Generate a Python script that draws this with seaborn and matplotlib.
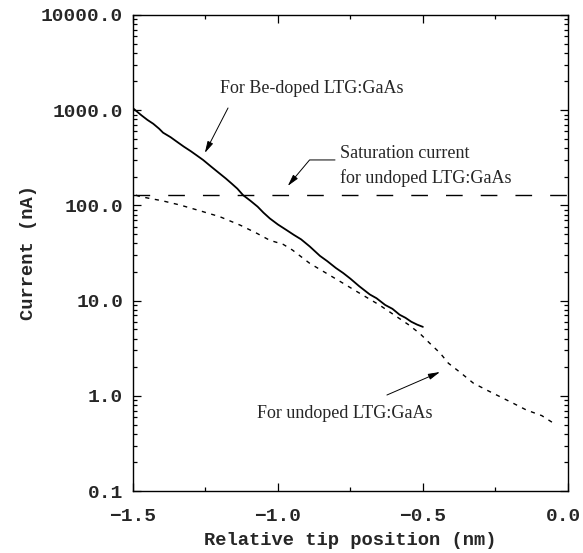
import numpy as np
import pandas as pd
import matplotlib
matplotlib.use("Agg")
import matplotlib.pyplot as plt
import matplotlib.transforms as mtransforms
import seaborn as sns
from matplotlib.ticker import FixedLocator, FormatStrFormatter, LogLocator, NullFormatter

# ---- data ----
be_x = [-1.500, -1.485, -1.470, -1.450, -1.430, -1.410, -1.396, -1.370, -1.350, -1.325,
        -1.300, -1.280, -1.258, -1.230, -1.200, -1.180, -1.160, -1.140, -1.120, -1.095,
        -1.070, -1.050, -1.028, -1.000, -0.970, -0.945, -0.920, -0.890, -0.855, -0.830,
        -0.800, -0.775, -0.750, -0.720, -0.683, -0.660, -0.630, -0.605, -0.580, -0.560,
        -0.540, -0.520, -0.500]
be_y = [1050, 960, 880, 790, 720, 640, 580, 520, 470, 415,
        370, 335, 300, 255, 215, 192, 170, 150, 128, 112,
        97, 84, 73, 63, 55, 49, 44, 37, 29.5, 26,
        22, 19.5, 17, 14.2, 11.6, 10.6, 9.0, 8.2, 7.1, 6.6,
        6.0, 5.6, 5.3]

un_x = [-1.490, -1.476, -1.440, -1.400, -1.338, -1.270, -1.200, -1.130, -1.073, -1.028,
        -0.982, -0.950, -0.890, -0.800, -0.717, -0.650, -0.600, -0.550, -0.510, -0.476,
        -0.440, -0.412, -0.370, -0.326, -0.280, -0.234, -0.190, -0.143, -0.090, -0.051,
        -0.040]
un_y = [128, 124, 118, 112, 101, 88, 76, 62, 51, 43,
        39, 34, 24.6, 16.9, 11.9, 9.0, 7.1, 5.6, 4.5, 3.56,
        2.8, 2.2, 1.75, 1.36, 1.15, 0.98, 0.84, 0.71, 0.62, 0.52,
        0.50]

saturation_current = 130.0

x_ticks = [-1.5, -1.0, -0.5, 0.0]
y_ticks = [0.1, 1.0, 10.0, 100.0, 1000.0, 10000.0]

be_df = pd.DataFrame({"x": be_x, "y": be_y})
un_df = pd.DataFrame({"x": un_x, "y": un_y})

sns.set_style("ticks")
mono = ["Liberation Mono", "DejaVu Sans Mono"]
serif = ["Liberation Serif", "DejaVu Serif"]
plt.rcParams["font.family"] = mono
plt.rcParams["axes.unicode_minus"] = True

fig = plt.figure(figsize=(5.83, 5.53), dpi=100)
ax = fig.add_axes([0.228, 0.112, 0.746, 0.861])

sns.lineplot(data=be_df, x="x", y="y", ax=ax, color="black", lw=1.3, estimator=None, sort=False)
sns.lineplot(data=un_df, x="x", y="y", ax=ax, color="black", lw=1.0, estimator=None, sort=False)
ax.lines[-1].set_dashes((3, 4))
ax.axhline(saturation_current, color="black", lw=1.0, dashes=(12, 13))

ax.set_yscale("log")
ax.set_xlim(-1.5, 0.0)
ax.set_ylim(0.1, 10000)

def minus_fmt(v, pos=None):
    s = "%.1f" % abs(v)
    return ("\u2212" + s) if v < -1e-9 else s

ax.xaxis.set_major_locator(FixedLocator(x_ticks))
ax.xaxis.set_minor_locator(FixedLocator([-1.25, -0.75, -0.25]))
ax.xaxis.set_major_formatter(matplotlib.ticker.FuncFormatter(minus_fmt))
ax.yaxis.set_major_locator(FixedLocator(y_ticks))
ax.yaxis.set_minor_locator(LogLocator(base=10, subs=np.arange(2, 10), numticks=20))
ax.yaxis.set_minor_formatter(NullFormatter())
ax.yaxis.set_major_formatter(FormatStrFormatter("%.1f"))

ax.tick_params(which="both", direction="in", top=True, right=True, width=0.9, color="black")
ax.tick_params(which="major", length=6, labelsize=14, pad=7)
ax.tick_params(which="minor", length=3)
ax.tick_params(axis="x", which="major", pad=12)
for lab in ax.get_xticklabels() + ax.get_yticklabels():
    lab.set_fontweight("bold")
for s in ax.spines.values():
    s.set_linewidth(1.0)
    s.set_color("black")

ax.set_xlabel("Relative tip position (nm)", fontsize=13.5, family=mono, fontweight="bold")
ax.set_ylabel("Current (nA)", fontsize=13.5, family=mono, fontweight="bold")
ax.xaxis.set_label_coords(0.5, -0.085)
ax.yaxis.set_label_coords(-0.221, 0.5)

arrow = dict(arrowstyle="-|>,head_length=0.7,head_width=0.18", color="black", lw=0.7,
             shrinkA=0, shrinkB=0)
ax.text(-0.883, 1670, "For Be-doped LTG:GaAs", family=serif, fontsize=13, ha="center", va="center")
ax.annotate("", xy=(-1.252, 355), xytext=(-1.172, 1054), arrowprops=arrow)

ax.text(-0.786, 347, "Saturation current", family=serif, fontsize=13, ha="left", va="center")
ax.text(-0.786, 194, "for undoped LTG:GaAs", family=serif, fontsize=13, ha="left", va="center")
arrow2 = dict(arrow)
arrow2["connectionstyle"] = "angle,angleA=0,angleB=50,rad=0"
ax.annotate("", xy=(-0.966, 160), xytext=(-0.803, 300), arrowprops=arrow2)

ax.text(-1.072, 0.659, "For undoped LTG:GaAs", family=serif, fontsize=13, ha="left", va="center")
ax.annotate("", xy=(-0.441, 1.78), xytext=(-0.624, 1.02), arrowprops=arrow)

fig.canvas.draw()
last = ax.xaxis.get_major_ticks()[-1].label1
last.set_transform(last.get_transform() +
                   mtransforms.ScaledTranslation(-4 / 100, 0, fig.dpi_scale_trans))

fig.savefig("out.png", dpi=100)
